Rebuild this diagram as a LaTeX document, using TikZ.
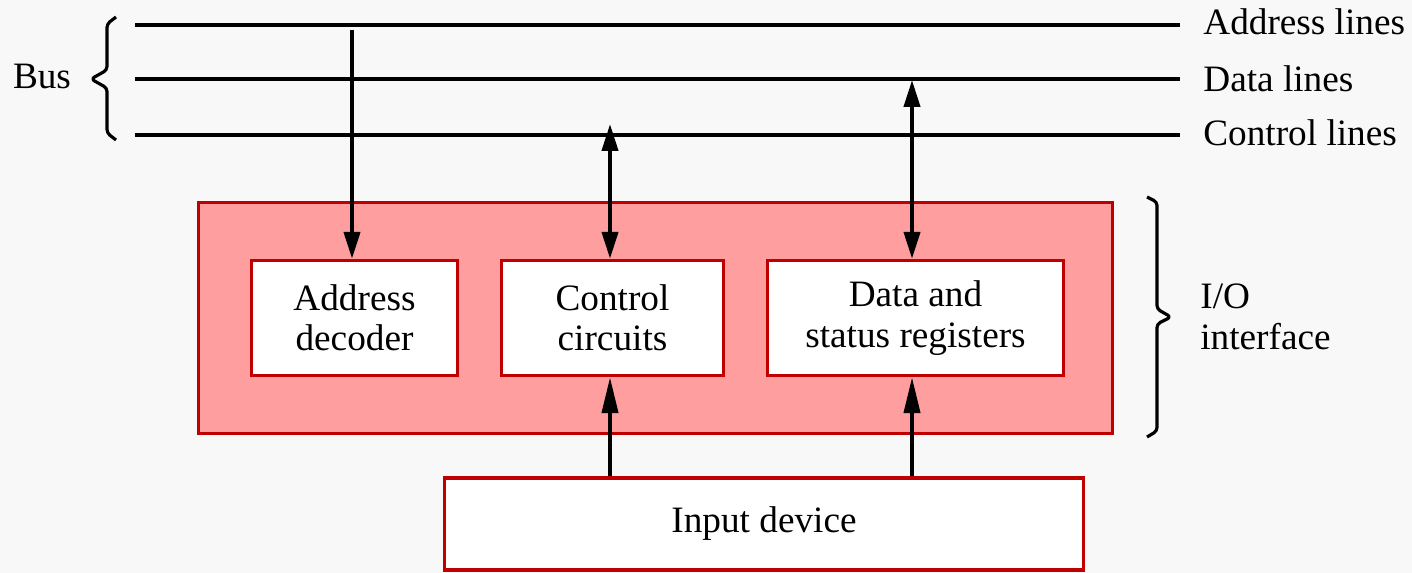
\documentclass[tikz,border=0pt]{standalone}
\usepackage{fontspec}
\setmainfont{Liberation Serif}
\usetikzlibrary{arrows.meta}
\definecolor{bg}{RGB}{248,248,248}
\definecolor{pinkfill}{RGB}{255,158,158}
\definecolor{darkred}{RGB}{192,0,0}
\begin{document}
\begin{tikzpicture}[x=0.02cm,y=-0.02cm,
  font=\fontsize{21.2}{23}\selectfont,
  busline/.style={line width=2.3pt},
  conn/.style={line width=2.3pt,-{Triangle[length=0.54cm,width=0.32cm]}},
  inconn/.style={line width=2.3pt,-{Triangle[length=0.72cm,width=0.32cm]}},
  biconn/.style={line width=2.3pt,{Triangle[length=0.54cm,width=0.32cm]}-{Triangle[length=0.54cm,width=0.32cm]}},
  iobox/.style={draw=darkred,fill=pinkfill,line width=1.9pt,minimum width=18.28cm,minimum height=4.62cm,inner sep=0},
  unit/.style={draw=darkred,fill=white,line width=1.9pt,minimum height=2.30cm,align=center,inner sep=0},
  bracestyle/.style={line width=1.8pt,rounded corners=2pt,line join=round,line cap=butt},
  lbl/.style={anchor=west,inner sep=0}]
\fill[bg] (0,0) rectangle (1412,573);
\useasboundingbox (0,0) rectangle (1412,573);

% I/O interface and units
\node[iobox] (io) at (655.5,318) {};
\node[unit,minimum width=4.12cm] (dec) at (354.5,318) {Address\\decoder};
\node[unit,minimum width=4.44cm] (ctl) at (612.5,318) {Control\\circuits};
\node[unit,minimum width=5.92cm] (dat) at (915.5,318) {Data and\\status registers};
\node[unit,minimum width=12.78cm,minimum height=1.84cm] (inp) at (764,524) {Input device};

% bus lines
\coordinate (a0) at (135,25);  \coordinate (a1) at (1180,25);
\coordinate (d0) at (135,79);  \coordinate (d1) at (1180,79);
\coordinate (c0) at (135,135); \coordinate (c1) at (1180,135);
\draw[busline] (a0) -- (a1);
\draw[busline] (d0) -- (d1);
\draw[busline] (c0) -- (c1);
\node[lbl] (al) at (1203,22) {Address lines};
\node[lbl] (dl) at (1203,79) {Data lines};
\node[lbl] (cl) at (1203,133) {Control lines};

% bus brace
\draw[bracestyle] (116,17) -- (107,24) -- (107,70) -- (91,79) -- (107,88) -- (107,133) -- (116,140);
\node (bus) at (42,76) {Bus};

% I/O brace
\draw[bracestyle] (1147,197) -- (1157,202) -- (1157,309) -- (1171,317) -- (1157,324) -- (1157,431) -- (1147,437);
\node[align=left,anchor=west,inner sep=0] (iol) at (1200,317) {I/O\\interface};

% connectors
\coordinate (atap) at (352,30);
\coordinate (ctap) at (610,124);
\coordinate (dtap) at (912,80);
\draw[conn] (atap) -- (atap |- dec.north);
\draw[biconn] (ctap) -- (ctap |- ctl.north);
\draw[biconn] (dtap) -- (dtap |- dat.north);
\draw[inconn] (inp.north -| ctap) -- (ctap |- ctl.south);
\draw[inconn] (inp.north -| dtap) -- (dtap |- dat.south);
\end{tikzpicture}
\end{document}
